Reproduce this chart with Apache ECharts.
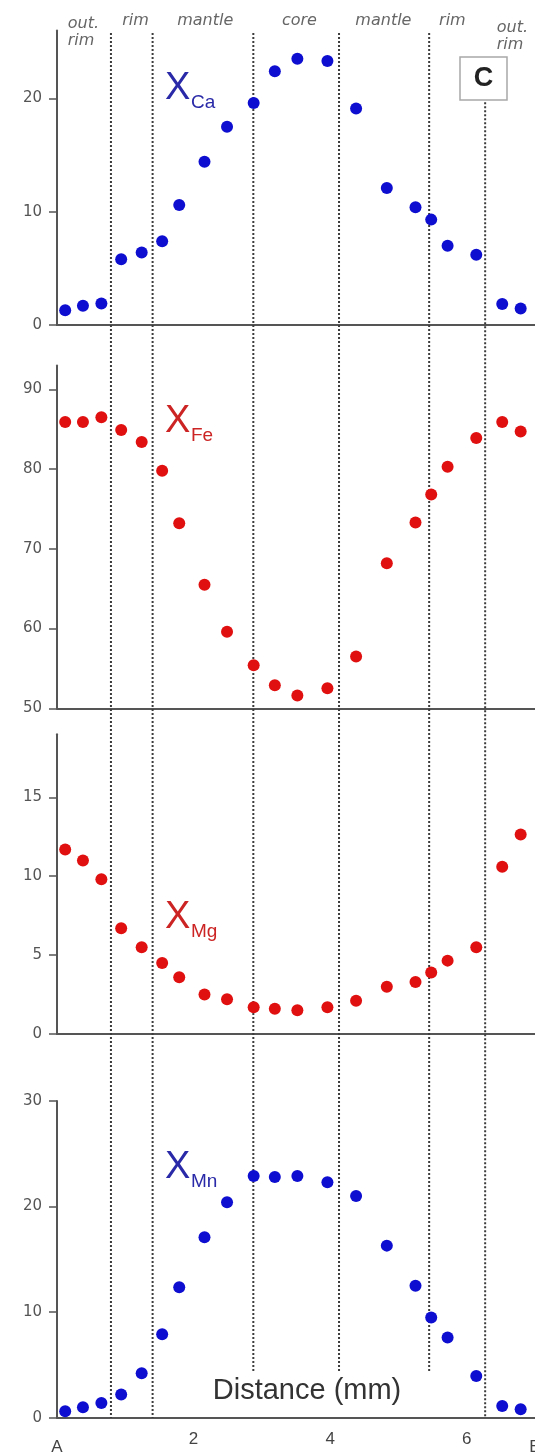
<!DOCTYPE html>
<html><head><meta charset="utf-8">
<script src="https://cdn.jsdelivr.net/npm/echarts@6/dist/echarts.min.js"></script>
<style>html,body{margin:0;padding:0;background:#fff}#c{width:535px;height:1452px}</style>
</head><body><div id="c"></div>
<script>
// ---------- data ----------
const distance = [0.12,0.38,0.65,0.94,1.24,1.54,1.79,2.16,2.49,2.88,3.19,3.52,3.96,4.38,4.83,5.25,5.48,5.72,6.14,6.52,6.79];
const xCa = [1.3,1.7,1.9,5.8,6.4,7.4,10.6,14.4,17.5,19.6,22.4,23.5,23.3,19.1,12.1,10.4,9.3,7.0,6.2,1.85,1.45];
const xFe = [85.9,85.9,86.5,84.9,83.4,79.8,73.2,65.5,59.6,55.4,52.9,51.6,52.5,56.5,68.2,73.3,76.8,80.3,83.9,85.9,84.7];
const xMg = [11.7,11.0,9.8,6.7,5.5,4.5,3.6,2.5,2.2,1.7,1.6,1.5,1.7,2.1,3.0,3.3,3.9,4.65,5.5,10.6,12.65];
const xMn = [0.6,1.0,1.4,2.2,4.2,7.9,12.35,17.1,20.4,22.9,22.8,22.9,22.3,21.0,16.3,12.5,9.5,7.6,3.95,1.1,0.8];
const zoneBounds = [0.79,1.40,2.875,4.13,5.45,6.27];
const zoneLabels = ['rim','mantle','core','mantle','rim'];
const zoneLabelAt = [1.15,2.17,3.55,4.78,5.79];
const caTicks = [0,10,20];
const feTicks = [50,60,70,80,90];
const mgTicks = [0,5,10,15];
const mnTicks = [0,10,20,30];
const distTicks = [0,2,4,6,7];
const distTickLabels = ['A','2','4','6','B'];
const subs = ['Ca','Fe','Mg','Mn'];

// ---------- layout / style ----------
const BLUE = '#0e0ed0', RED = '#e01010';
const LBLUE = '#2a2aa8', LRED = '#cc2424';
const panels = [
  {vals:xCa, ticks:caTicks, min:0, max:26, top:30.4, bottom:1127, color:BLUE, lc:LBLUE, ly:89},
  {vals:xFe, ticks:feTicks, min:50, max:93, top:365.4, bottom:743.7, color:RED, lc:LRED, ly:422},
  {vals:xMg, ticks:mgTicks, min:0, max:19, top:734.2, bottom:418, color:RED, lc:LRED, ly:918},
  {vals:xMn, ticks:mnTicks, min:0, max:30, top:1101, bottom:34.3, color:BLUE, lc:LBLUE, ly:1168}
];
const lineStart = [0,0,0,0,0,0.05];
const lineEnd = [1,1,0.967,0.967,0.967,1];
const AX = '#555';

const grid = [], xAxis = [], yAxis = [], series = [];
panels.forEach((p,i)=>{
  grid.push({left:57, right:0, top:p.top, bottom:p.bottom, containLabel:false, outerBoundsMode:'none'});
  xAxis.push({gridIndex:i, type:'value', min:0, max:7,
    axisLine:{show:true, onZero:false, lineStyle:{color:AX, width:2}},
    axisTick:{show:false}, splitLine:{show:false},
    axisLabel: i===3 ? {show:true, customValues:distTicks, margin:13, color:'#444', fontSize:17,
      fontFamily:'Liberation Sans', hideOverlap:false,
      rich:{ab:{fontSize:17, fontFamily:'Liberation Sans', color:'#444', padding:[8,0,0,0]}},
      formatter:v=>{const k=distTicks.indexOf(v); if(k<0) return ''; const t=distTickLabels[k]; return /\d/.test(t)?t:'{ab|'+t+'}';}} : {show:false}
  });
  yAxis.push({gridIndex:i, type:'value', min:p.min, max:p.max,
    axisLine:{show:true, onZero:false, lineStyle:{color:AX, width:2}},
    axisTick:{show:true, length:8, customValues:p.ticks, lineStyle:{color:AX, width:1.5}},
    axisLabel:{customValues:p.ticks, color:'#555', fontSize:15, margin:15, fontFamily:'DejaVu Sans'},
    splitLine:{show:false}
  });
  series.push({type:'scatter', xAxisIndex:i, yAxisIndex:i, symbolSize:12, z:3,
    itemStyle:{color:p.color, opacity:1}, data:distance.map((d,j)=>[d,p.vals[j]]), animation:false});
});
// overlay grid for zone boundaries
grid.push({left:57, right:0, top:33, bottom:34, outerBoundsMode:'none'});
xAxis.push({gridIndex:4, type:'value', min:0, max:7, show:false});
yAxis.push({gridIndex:4, type:'value', min:0, max:1, inverse:true, show:false});
zoneBounds.forEach((b,i)=>{
  series.push({type:'line', xAxisIndex:4, yAxisIndex:4, symbol:'none', z:1, silent:true, animation:false,
    lineStyle:{color:'#3c3c3c', width:2, type:[2,2]},
    data:[[b,lineStart[i]],[b,lineEnd[i]]]});
});

const chart = echarts.init(document.getElementById('c'), null, {renderer:'canvas'});
chart.setOption({backgroundColor:'#fff', animation:false, grid, xAxis, yAxis, series});

const px = v => chart.convertToPixel({xAxisIndex:4}, v);
const hdr = {fontFamily:'DejaVu Sans', fontStyle:'italic', fontSize:16, fill:'#666'};
const g = [];
zoneLabels.forEach((t,i)=>{
  g.push({type:'text', x:px(zoneLabelAt[i]), y:21, style:Object.assign({text:t, align:'center', verticalAlign:'middle'}, hdr)});
});
g.push({type:'text', x:px(0.157), y:24, style:Object.assign({text:'out.', align:'left', verticalAlign:'middle'}, hdr)});
g.push({type:'text', x:px(0.157), y:41, style:Object.assign({text:'rim', align:'left', verticalAlign:'middle'}, hdr)});
g.push({type:'text', x:px(6.44), y:28, style:Object.assign({text:'out.', align:'left', verticalAlign:'middle'}, hdr)});
g.push({type:'text', x:px(6.44), y:45, style:Object.assign({text:'rim', align:'left', verticalAlign:'middle'}, hdr)});
panels.forEach((p,i)=>{
  g.push({type:'text', x:165, y:p.ly, style:{text:'X', fontFamily:'Liberation Sans', fontSize:38, fill:p.lc, align:'left', verticalAlign:'middle'}});
  g.push({type:'text', x:191, y:p.ly+14, style:{text:subs[i], fontFamily:'Liberation Sans', fontSize:19, fill:p.lc, align:'left', verticalAlign:'middle'}});
});
// panel letter box
g.push({type:'rect', shape:{x:460, y:57, width:47, height:43}, style:{fill:'#fff', stroke:'#a8a8a8', lineWidth:1.5}, z:10});
g.push({type:'text', x:483.5, y:79, z:11, style:{text:'C', fontFamily:'Liberation Sans', fontWeight:'bold', fontSize:27, fill:'#222', align:'center', verticalAlign:'middle'}});
// axis title
g.push({type:'text', x:307, y:1391, style:{text:'Distance (mm)', fontFamily:'Liberation Sans', fontSize:29, fill:'#333', align:'center', verticalAlign:'middle'}});
chart.setOption({graphic:g});
</script></body></html>
